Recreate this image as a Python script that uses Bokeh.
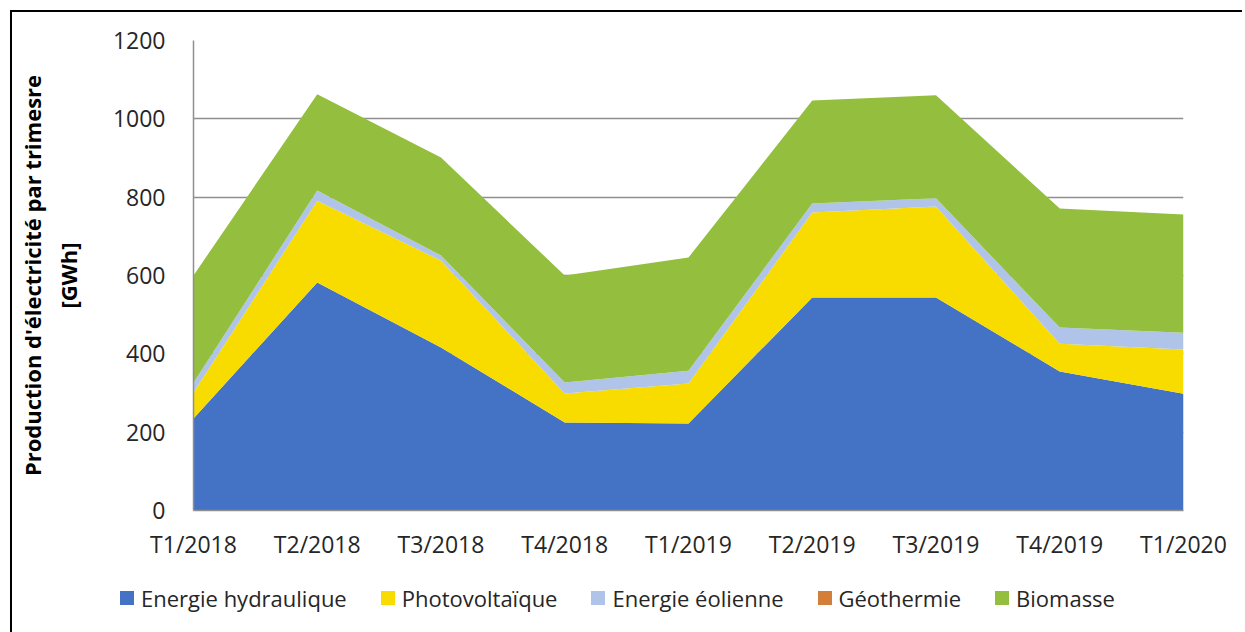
from bokeh.plotting import figure
from bokeh.layouts import column
from bokeh.models import ColumnDataSource, Range1d, FixedTicker, Div
from bokeh.embed import file_html
from bokeh.resources import INLINE

quarters = ["T1/2018", "T2/2018", "T3/2018", "T4/2018", "T1/2019",
            "T2/2019", "T3/2019", "T4/2019", "T1/2020"]
hydro = [235, 582, 416, 225, 222, 544, 544, 355, 298]
solar = [66, 209, 222, 74, 102, 217, 232, 71, 113]
wind = [25, 26, 13, 28, 33, 23, 21, 41, 43]
geo = [0, 0, 0, 0, 0, 0, 0, 0, 0]
biomass = [274, 246, 250, 273, 289, 263, 263, 304, 302]

names = ["hydro", "solar", "wind", "geo", "biomass"]
labels = ["Energie hydraulique", "Photovoltaïque", "Energie éolienne", "Géothermie", "Biomasse"]
colors = ["#4472C4", "#F8DC00", "#AFC4E8", "#D37E39", "#94BF3E"]
y_ticks = [0, 200, 400, 600, 800, 1000, 1200]

x = list(range(len(quarters)))
src = ColumnDataSource(dict(x=x, hydro=hydro, solar=solar, wind=wind, geo=geo, biomass=biomass))

FONT = "Open Sans"

p = figure(width=1220, height=550, output_backend="svg", toolbar_location=None,
           x_range=Range1d(0, len(quarters) - 1), y_range=Range1d(0, 1200),
           min_border_left=181, min_border_right=49, min_border_top=28, min_border_bottom=52)

rs = p.varea_stack(stackers=names, x="x", color=colors, source=src)

p.outline_line_color = None
p.xgrid.grid_line_color = None
p.ygrid.grid_line_color = "#8f8f8f"
p.ygrid.grid_line_width = 1.5
p.ygrid.ticker = FixedTicker(ticks=y_ticks)

p.yaxis.ticker = FixedTicker(ticks=y_ticks)
p.xaxis.ticker = FixedTicker(ticks=x)
p.xaxis.major_label_overrides = {i: q for i, q in enumerate(quarters)}

for ax in (p.xaxis[0], p.yaxis[0]):
    ax.axis_line_color = "#8f8f8f"
    ax.axis_line_width = 1.5
    ax.major_tick_line_color = None
    ax.minor_tick_line_color = None
    ax.major_label_text_font = FONT
    ax.major_label_text_font_size = "23px"
    ax.major_label_text_color = "#262626"

p.yaxis.major_label_standoff = 22
p.xaxis.major_label_standoff = 11

p.yaxis.axis_label = "Production d'électricité par trimesre\n[GWh]"
p.yaxis.axis_label_text_font = FONT
p.yaxis.axis_label_text_font_size = "22px"
p.yaxis.axis_label_text_font_style = "bold"
p.yaxis.axis_label_text_color = "#000000"
p.yaxis.axis_label_standoff = 27

# Legend as an HTML strip below the chart
parts = []
for i, (lab, col) in enumerate(zip(labels, colors)):
    ml = 0 if i == 0 else 34
    parts.append(
        f'<span style="display:inline-flex;align-items:center;margin-left:{ml}px">'
        f'<span style="display:inline-block;width:14px;height:14px;background:{col};margin-right:7px"></span>'
        f'<span>{lab}</span></span>'
    )
html = ('<div style="display:flex;align-items:center;white-space:nowrap;'
        "font-family:'Open Sans';font-size:22px;color:#262626;line-height:30px;"
        'padding-left:103px;padding-top:16px">' + "".join(parts) + "</div>")
legend_div = Div(text=html, width=1220, height=60)

layout = column(p, legend_div, spacing=0,
                styles={"border-left": "2px solid black", "border-top": "2px solid black",
                        "margin-left": "10px", "margin-top": "10px"})

open("out.html", "w").write(file_html(layout, INLINE))
